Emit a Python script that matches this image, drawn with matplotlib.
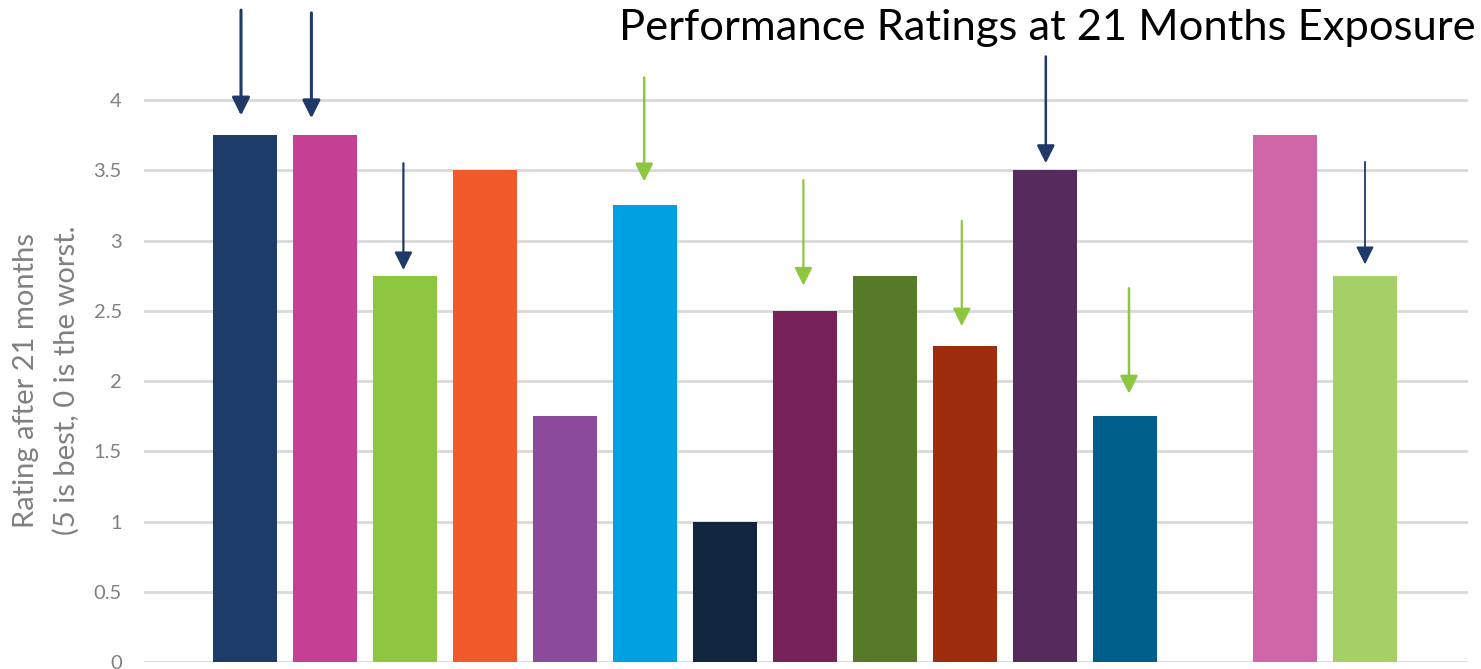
import matplotlib
matplotlib.use("Agg")
import matplotlib.pyplot as plt
import numpy as np

# ---- data ----
slots = [0, 1, 2, 3, 4, 5, 6, 7, 8, 9, 10, 11, 13, 14]
ratings = [3.75, 3.75, 2.75, 3.5, 1.75, 3.25, 1.0, 2.5, 2.75, 2.25, 3.5, 1.75, 3.75, 2.75]
bar_colors = ["#1d3c69", "#c53f93", "#8dc63f", "#f15a2b", "#8b4a9c", "#00a0e1",
              "#12253f", "#77235a", "#567a27", "#9e2d0d", "#552b5e", "#005f8a",
              "#d065a7", "#a5cf67"]
yticks = [0, 0.5, 1, 1.5, 2, 2.5, 3, 3.5, 4]
ytick_labels = ["0", "0.5", "1", "1.5", "2", "2.5", "3", "3.5", "4"]

title = "Performance Ratings at 21 Months Exposure"
ylabel_lines = ["Rating after 21 months", "(5 is best, 0 is the worst."]

# arrows: x position (slot), start y, tip y, colour
arrow_x = [-0.05, 0.83, 1.98, 4.99, 6.98, 8.96, 10.01, 11.05, 14.0]
arrow_top = [4.64, 4.62, 3.55, 4.16, 3.43, 3.14, 4.31, 2.66, 3.56]
arrow_tip = [3.89, 3.87, 2.79, 3.42, 2.68, 2.39, 3.55, 1.91, 2.83]
arrow_colors = ["#1f3a68", "#1f3a68", "#1f3a68", "#8dc63f", "#8dc63f", "#8dc63f",
                "#1f3a68", "#8dc63f", "#1f3a68"]
arrow_lw = [2.2, 2.2, 1.6, 1.8, 1.6, 1.6, 1.8, 1.8, 1.3]

FONT = ["Lato", "DejaVu Sans"]

fig = plt.figure(figsize=(14.81, 6.69), dpi=100)
ax = fig.add_axes([144 / 1481, 7 / 669, (1468 - 144) / 1481, 662 / 669])

ax.bar(slots, ratings, width=0.8, color=bar_colors, zorder=3)

ax.set_xlim(-1.2625, 15.2875)
ax.set_ylim(0, 4.712)
ax.set_yticks(yticks)
ax.set_yticklabels(ytick_labels, family=FONT, fontweight="normal", fontsize=14.5, color="#808080")
ax.set_xticks([])
ax.tick_params(axis="y", length=0, pad=16)
ax.yaxis.grid(True, color="#d9d9d9", linewidth=2, zorder=0)
ax.set_axisbelow(True)
for s in ax.spines.values():
    s.set_visible(False)

for x, y0, y1, c, lw in zip(arrow_x, arrow_top, arrow_tip, arrow_colors, arrow_lw):
    ax.annotate("", xy=(x, y1), xytext=(x, y0),
                arrowprops=dict(arrowstyle="-|>,head_length=0.9,head_width=0.45",
                                color=c, lw=lw, shrinkA=0, shrinkB=0,
                                mutation_scale=12),
                annotation_clip=False, zorder=5)

fig.text(1476 / 1481, 1 - 28 / 669, title, ha="right", va="center",
         family=FONT, fontweight="normal", fontsize=31.3, color="#000000")

fig.text(26 / 1481, 1 - 380 / 669, ylabel_lines[0], rotation=90, ha="center", va="center",
         family=FONT, fontweight="normal", fontsize=21, color="#808080")
fig.text(66 / 1481, 1 - 380 / 669, ylabel_lines[1], rotation=90, ha="center", va="center",
         family=FONT, fontweight="normal", fontsize=21, color="#808080")

fig.savefig("out.png", dpi=100)
